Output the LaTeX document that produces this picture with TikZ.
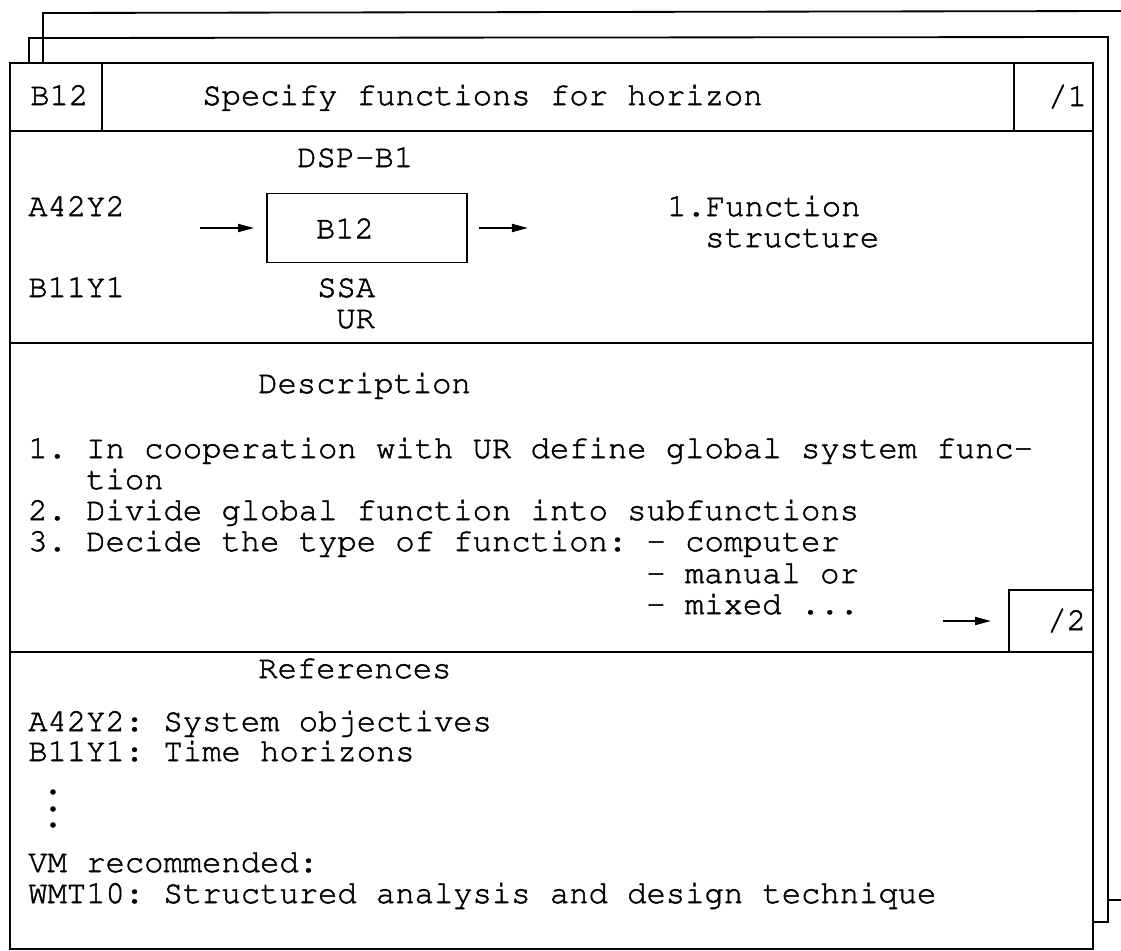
\documentclass[tikz,border=0pt]{standalone}
\usepackage[T1]{fontenc}
\usepackage{courier}
\usetikzlibrary{arrows.meta}
\frenchspacing
\newcommand{\inked}{\special{pdf:literal direct 2 Tr 0.35 w}}
\tikzstyle{rule} = [line width=1.3pt]
\tikzstyle{typed} = [font=\ttfamily\fontsize{22.9}{30}\selectfont\inked, anchor=base west, inner sep=0pt]
\tikzstyle{procbox} = [typed, rule, draw, anchor=center, inner xsep=1.225cm, inner ysep=0pt, text width=2.55cm, align=left, minimum width=5cm, minimum height=1.725cm]
\tikzstyle{pagebox} = [typed, rule, draw, anchor=center, inner xsep=0.175cm, inner ysep=0pt, text width=1.75cm, align=right, minimum height=1.55cm]
\tikzset{>={Triangle[length=0.4cm, width=0.2cm]}}

\begin{document}
\begin{tikzpicture}[x=0.025cm, y=-0.025cm]
  \useasboundingbox (0,0) rectangle (1121,950);
  % Sheets behind
  \draw[rule] (43,63) -- (43,13) -- (1121,11);
  \draw[rule] (1108,900) -- (1121,900);
  \draw[rule] (29,63) -- (29,38) -- (1108,37) -- (1108,922) -- (1093,922);
  % Front sheet and its rows
  \draw[rule, fill=white] (10,63) rectangle (1093,949);
  \foreach \y in {131, 343, 652} {
    \draw[rule] (10,\y) -- (1093,\y);
  }
  \draw[rule] (102,63) -- (102,131);
  \draw[rule] (1014,63) -- (1014,131);
  % Heading
  \node[typed] (id) at (30,105) {B12};
  \node[typed] (title) at (202,105) {Specify functions for horizon};
  \node[typed] (page1) at (1048,106) {/1};
  % Activity with inputs and outputs
  \node[typed] (dsp) at (297,167) {DSP-B1};
  \node[procbox] (proc) at (367,228) {B12};
  \node[typed] (ssa) at (317,297) {SSA};
  \node[typed] (ur) at (336,328) {UR};
  \node[typed] (in1) at (28,216) {A42Y2};
  \node[typed] (in2) at (28,297) {B11Y1};
  \node[typed] (out1) at (667,216) {1.Function};
  \node[typed] (out2) at (705,247) {structure};
  \coordinate (inflow) at (200,228);
  \coordinate (outflow) at (528,228);
  \draw[rule, ->, shorten >=0.3cm] (inflow) -- (proc.west);
  \draw[rule, ->, shorten <=0.275cm] (proc.east) -- (outflow);
  % Description
  \node[typed] (deschead) at (258,393) {Description};
  \foreach \i/\x/\y/\txt in {1/28/458/{1. In cooperation with UR define global system func-},
      2/86/489/{tion},
      3/28/520/{2. Divide global function into subfunctions},
      4/28/551/{3. Decide the type of function: - computer},
      5/646/583/{- manual or},
      6/646/614/{- mixed ...}} {
    \node[typed] (desc\i) at (\x,\y) {\txt};
  }
  \node[pagebox] (page2) at (1051,621) {/2};
  \coordinate (turn) at (943,621);
  \draw[rule, ->, shorten >=0.425cm] (turn) -- (page2.west);
  % References
  \node[typed] (refhead) at (258,678) {References};
  \node[typed] (ref1) at (28,731) {A42Y2: System objectives};
  \node[typed] (ref2) at (28,761) {B11Y1: Time horizons};
  \foreach \y in {792, 809, 825} {
    \fill (53,\y) circle (2pt);
  }
  \node[typed] (vm) at (28,872) {VM recommended:};
  \node[typed] (wmt) at (28,903) {WMT10: Structured analysis and design technique};
\end{tikzpicture}
\end{document}
